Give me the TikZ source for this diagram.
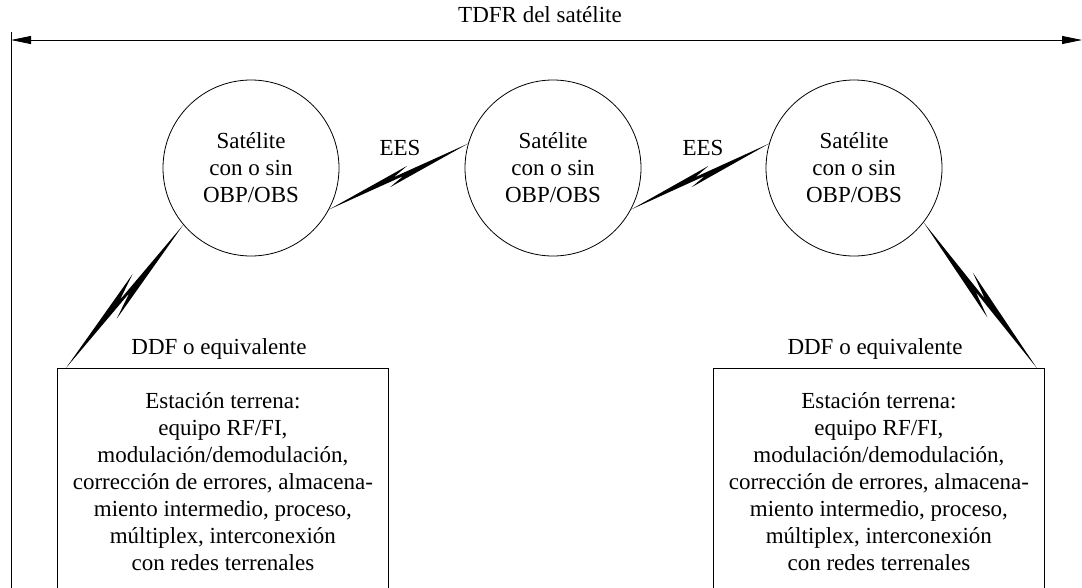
\documentclass[tikz,border=0pt]{standalone}
\usepackage{fontspec}
\setmainfont{Liberation Serif}
\usetikzlibrary{arrows.meta,calc}
% #1 start, #2 end, #3 side of first tip, #4 opposite side, #5 tip position, #6 tip offset
\newcommand\zbolt[6]{%
  \pgfmathsetmacro\tipb{1-#5}%
  \fill (#1) -- ($(#1)!#5!(#2)!#6!#3:(#2)$) -- ($(#1)!0.47!(#2)!1.5pt!#3:(#2)$)
    -- (#2) -- ($(#1)!\tipb!(#2)!#6!#4:(#2)$) -- ($(#1)!0.53!(#2)!1.5pt!#4:(#2)$) -- cycle;}
\begin{document}
\begin{tikzpicture}[x=1pt,y=-1pt,
  txt/.style={font=\fontsize{23}{27}\selectfont, align=center},
  sat/.style={draw, circle, minimum size=176pt, inner sep=0pt, txt, line width=0.8pt},
  est/.style={draw, rectangle, txt, anchor=north west, minimum width=331pt,
    inner ysep=24pt, inner xsep=5pt, line width=0.8pt},
  lbl/.style={txt, inner sep=0pt},
  dim/.style={line width=0.8pt},
]
\useasboundingbox (0,0) rectangle (1082,587);
\clip (0,0) rectangle (1082,587);

% top dimension
\coordinate (L) at (11,40);
\coordinate (R) at (1082,40);
\coordinate (Ltop) at (11,32);
\coordinate (Lbot) at (11,600);
\draw[dim] (Ltop) -- (Lbot);
\draw[dim, {Triangle[length=20pt,width=8pt]}-{Triangle[length=20pt,width=8pt]}] (L) -- (R);
\node[lbl] (title) at (540,15) {TDFR del satélite};

% satellites
\node[sat] (s1) at (251,168) {Satélite\\con o sin\\OBP/OBS};
\node[sat] (s2) at (553,168) {Satélite\\con o sin\\OBP/OBS};
\node[sat] (s3) at (854,168) {Satélite\\con o sin\\OBP/OBS};

% earth stations
\node[est] (e1) at (57,368) {Estación terrena:\\equipo RF/FI,\\modulación/demodulación,\\corrección de errores, almacena-\\miento intermedio, proceso,\\múltiplex, interconexión\\con redes terrenales};
\node[est] (e2) at (713,368) {Estación terrena:\\equipo RF/FI,\\modulación/demodulación,\\corrección de errores, almacena-\\miento intermedio, proceso,\\múltiplex, interconexión\\con redes terrenales};

\node[lbl] (d1) at (219,349) {DDF o equivalente};
\node[lbl] (d2) at (875,349) {DDF o equivalente};
\node[lbl] (ees1) at (400,148) {EES};
\node[lbl] (ees2) at (703,148) {EES};

% bolts
\coordinate (b1) at ($(e1.north west)+(9,0)$);
\coordinate (b2) at ($(e2.north east)+(-8,0)$);
\zbolt{s1.-28}{s2.164}{90}{-90}{0.58}{6pt}
\zbolt{s2.-28}{s3.164}{90}{-90}{0.58}{6pt}
\zbolt{s1.220}{b1}{90}{-90}{0.62}{8pt}
\zbolt{s3.-38}{b2}{-90}{90}{0.62}{8pt}
\end{tikzpicture}
\end{document}
